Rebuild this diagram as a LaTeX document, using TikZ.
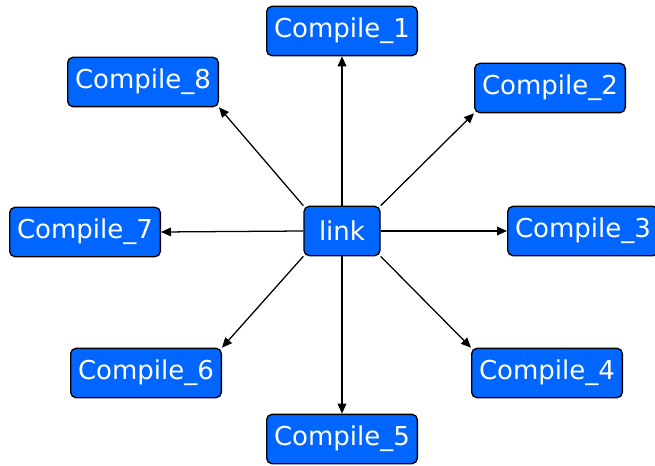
\documentclass[tikz,border=0pt]{standalone}
\usepackage{fontspec}
\newfontfamily\boxfont{DejaVu Sans}
\usetikzlibrary{arrows.meta}

\begin{document}
\begin{tikzpicture}[
    x=0.75pt, y=-0.75pt,
    >={Triangle[length=7.5pt,width=6.5pt]},
    job/.style={draw=black, line width=1pt, rounded corners=4pt, fill={rgb,255:red,0;green,102;blue,255},
        text=white, font=\boxfont\fontsize{19.5}{21}\selectfont, minimum width=113pt, minimum height=37pt, inner sep=1pt},
    arr/.style={->, line width=0.95pt}
]
    \useasboundingbox (0,0) rectangle (655,466);

    \node[job, minimum width=57pt] (link) at (342,231) {link};
    \node[job] (c1) at (342,31) {Compile\_1};
    \node[job] (c2) at (550,88) {Compile\_2};
    \node[job] (c3) at (583,231) {Compile\_3};
    \node[job] (c4) at (547,373) {Compile\_4};
    \node[job] (c5) at (342,439) {Compile\_5};
    \node[job] (c6) at (146,373) {Compile\_6};
    \node[job] (c7) at (85,232) {Compile\_7};
    \node[job] (c8) at (143,82) {Compile\_8};

    % straight ones from the sides, diagonal ones corner to corner
    \draw[arr] (link.north) -- (c1.south);
    \draw[arr] (link.north east) -- (c2.south west);
    \draw[arr] (link.east) -- (c3.west);
    \draw[arr] (link.south east) -- (c4.north west);
    \draw[arr] (link.south) -- (c5.north);
    \draw[arr] (link.south west) -- (c6.north east);
    \draw[arr] (link.west) -- (c7.east);
    \draw[arr] (link.north west) -- (c8.south east);
\end{tikzpicture}
\end{document}
